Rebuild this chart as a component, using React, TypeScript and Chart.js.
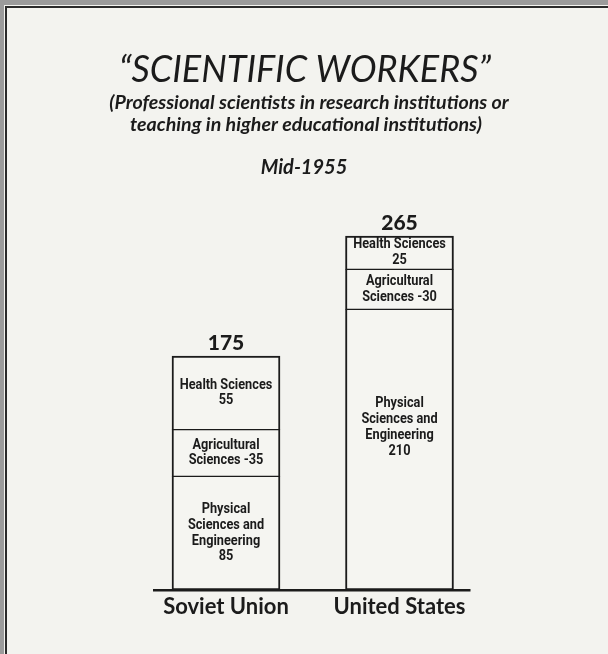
import React, { useEffect, useRef } from "react";
import { Chart, registerables } from "chart.js";

Chart.register(...registerables);

const categories = ["Soviet Union", "United States"];
const physicalValues = [85, 210];
const agriculturalValues = [35, 30];
const healthValues = [55, 25];
const totals = [175, 265];
const titleText = "\u201CSCIENTIFIC WORKERS\u201D";
const subtitleLines = [
  "(Professional scientists in research institutions or",
  "teaching in higher educational institutions)",
];
const periodText = "Mid-1955";
const yMax = 300;

const labelMakers: ((v: number) => string[])[] = [
  (v) => ["Physical", "Sciences and", "Engineering", String(v)],
  (v) => ["Agricultural", "Sciences -" + v],
  (v) => ["Health Sciences", String(v)],
];

const BG = "#f3f3ef";
const INK = "#1b1b1b";

const decorPlugin = {
  id: "decor",
  beforeDraw(chart: any) {
    const { ctx, width, height } = chart;
    ctx.save();
    ctx.fillStyle = BG;
    ctx.fillRect(0, 0, width, height);
    ctx.fillStyle = "#9b9b9b";
    ctx.fillRect(0, 0, width, 5);
    ctx.fillRect(0, 0, 4, height);
    ctx.fillStyle = "#2a2a2a";
    ctx.fillRect(5, 6, width - 5, 2);
    ctx.fillRect(5, 6, 2, height - 6);
    ctx.restore();
  },
  afterDatasetsDraw(chart: any) {
    const { ctx } = chart;
    const x = chart.scales.x;
    const y = chart.scales.y;
    ctx.save();
    ctx.fillStyle = INK;
    ctx.textAlign = "center";
    ctx.textBaseline = "middle";

    // titles
    ctx.font = "italic 400 36px Lato";
    ctx.fillText(titleText, 305, 70);
    ctx.font = "italic 700 19.6px Lato";
    ctx.fillText(subtitleLines[0], 309, 103);
    ctx.fillText(subtitleLines[1], 306, 125);
    ctx.font = "italic 700 20px Lato";
    ctx.fillText(periodText, 304, 168);

    // segment labels (condensed)
    ctx.font = "bold 14px Roboto";
    const sx = 0.91;
    chart.data.datasets.forEach((ds: any, di: number) => {
      const meta = chart.getDatasetMeta(di);
      meta.data.forEach((bar: any, i: number) => {
        const lines = labelMakers[di](ds.data[i]);
        const top = Math.min(bar.y, bar.base);
        const cy = Math.min((bar.y + bar.base) / 2, top + 118);
        const lh = 15.8;
        const startY = cy - ((lines.length - 1) * lh) / 2;
        lines.forEach((t, k) => {
          ctx.save();
          ctx.translate(bar.x, startY + k * lh);
          ctx.scale(sx, 1);
          ctx.fillText(t, 0, 0);
          ctx.restore();
        });
      });
    });

    // totals
    ctx.font = "900 21px Lato";
    ctx.textBaseline = "alphabetic";
    totals.forEach((t, i) => {
      ctx.fillText(String(t), x.getPixelForValue(i), y.getPixelForValue(t) - 6);
    });

    // baseline
    const first = chart.getDatasetMeta(0).data[0];
    const last = chart.getDatasetMeta(0).data[categories.length - 1];
    const y0 = y.getPixelForValue(0);
    const lx = first.x - first.width / 2 - 19;
    const rx = last.x + last.width / 2 + 17;
    ctx.fillRect(lx, y0 - 1, rx - lx, 2.5);

    // category labels
    ctx.textBaseline = "middle";
    ctx.font = "bold 22px Lato";
    categories.forEach((c, i) => {
      ctx.fillText(c, x.getPixelForValue(i), y0 + 17);
    });
    ctx.restore();
  },
};

export default function App() {
  const ref = useRef<HTMLCanvasElement | null>(null);
  useEffect(() => {
    if (!ref.current) return;
    const common = {
      backgroundColor: "#f5f5f1",
      borderColor: INK,
      borderSkipped: false,
      barThickness: 108,
    };
    const chart = new Chart(ref.current, {
      type: "bar",
      data: {
        labels: categories,
        datasets: [
          { label: "Physical Sciences and Engineering", data: physicalValues, ...common, borderWidth: { top: 1, bottom: 2, left: 2, right: 2 } },
          { label: "Agricultural Sciences", data: agriculturalValues, ...common, borderWidth: { top: 1, bottom: 1, left: 2, right: 2 } },
          { label: "Health Sciences", data: healthValues, ...common, borderWidth: { top: 2, bottom: 1, left: 2, right: 2 } },
        ] as any,
      },
      options: {
        animation: false,
        responsive: false,
        layout: { padding: { left: 139.25, right: 121.75, top: 189.2, bottom: 64 } },
        scales: {
          x: { display: false, stacked: true },
          y: { display: false, stacked: true, min: 0, max: yMax },
        },
        plugins: { legend: { display: false }, tooltip: { enabled: false } },
      },
      plugins: [decorPlugin],
    });
    return () => chart.destroy();
  }, []);
  return (
    <div style={{ position: "fixed", left: 0, top: 0, width: 608, height: 654 }}>
      <canvas ref={ref} width={608} height={654} style={{ display: "block" }} />
    </div>
  );
}
